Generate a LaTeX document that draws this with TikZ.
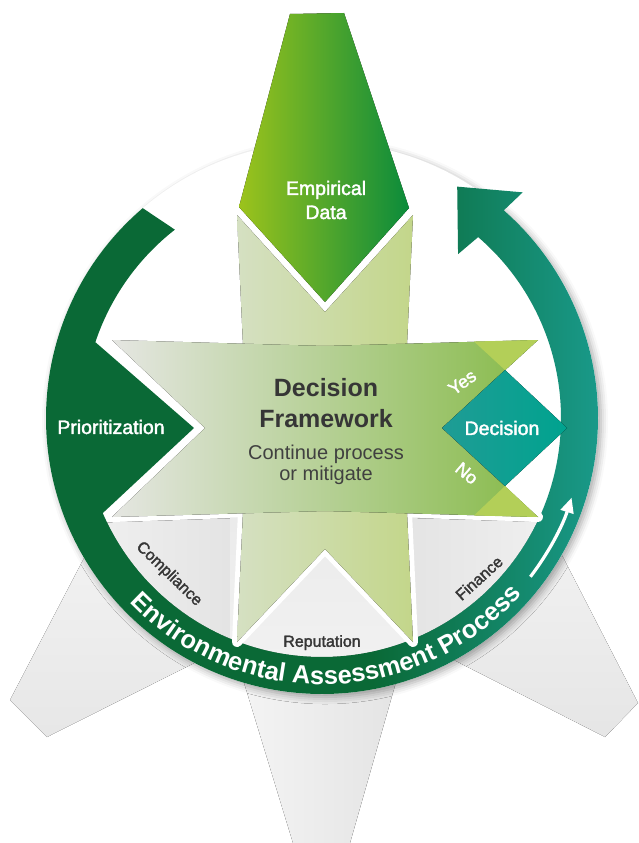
\documentclass[tikz,border=0pt]{standalone}
\usepackage{fontspec}
\setmainfont{Liberation Sans}
\newfontfamily\medfont[FakeBold=2]{Liberation Sans}
\usepackage{xcolor}
\usepackage{tikz}
\usetikzlibrary{backgrounds,calc,arrows.meta,decorations.text,shadows.blur}

\definecolor{ringdark}{HTML}{0A6936}
\definecolor{ringteal}{HTML}{1A9C8E}
\definecolor{datalight}{HTML}{9CC31C}
\definecolor{datadark}{HTML}{0B8B3B}
\definecolor{armgray}{HTML}{E5E6E2}
\definecolor{armgreen}{HTML}{86BA48}
\definecolor{bandlight}{HTML}{D5E0C2}
\definecolor{bandgreen}{HTML}{C3D68A}
\definecolor{limetri}{HTML}{B3CF58}
\definecolor{tealleft}{HTML}{1F9C95}
\definecolor{tealright}{HTML}{00A38F}
\definecolor{textdark}{HTML}{363636}

\pgfdeclarehorizontalshading{ringshade}{100bp}{color(0bp)=(ringdark); color(55bp)=(ringdark); color(75bp)=(ringteal); color(100bp)=(ringteal)}

\newcommand\lblfont{\medfont\fontsize{19.5}{24}\selectfont}
\newcommand\segfont{\medfont\fontsize{16}{20}\selectfont}
\newcommand\yesnofont{\medfont\fontsize{18}{20}\selectfont}
\newcommand\titlefont{\bfseries\fontsize{25}{31}\selectfont}
\newcommand\subfont{\fontsize{20}{21}\selectfont}
\newcommand\ringfont{\bfseries\fontsize{25.5}{28}\selectfont}

\begin{document}
\begin{tikzpicture}[x=1pt, y=-1pt,
        wlabel/.style={text=white, font=\lblfont, inner sep=0pt, align=center},
        seglabel/.style={text=textdark, font=\segfont, inner sep=0pt, text height=11.5pt, text depth=0pt},
        yesno/.style={text=white, font=\yesnofont, inner sep=0pt, text height=13pt, text depth=0pt}]
            \path[use as bounding box] (0,0) rectangle (638,843);
            \coordinate (c) at (322,418);

            % badge disk and the grey sectors below the star
            \fill[white, blur shadow={shadow xshift=3pt, shadow yshift=-3pt, shadow blur radius=7pt, shadow opacity=35}] (c) circle (276);
            \begin{scope}
                \clip (c) circle (239);
                \fill[left color=gray!10, right color=gray!22] (60,524) -- (240,518) -- (240,720) -- (60,720) -- cycle;
                \fill[top color=gray!16, bottom color=gray!9] (230,510) rectangle (420,720);
                \fill[left color=gray!21, right color=gray!9] (410,518) -- (600,524) -- (600,720) -- (410,720) -- cycle;
            \end{scope}

            % process ring, prioritization head and arrow head
            \shade[shading=ringshade]
                ($(c)+(-130.5:276)$) arc[start angle=-130.5, end angle=-408.8, radius=276]
                -- ($(c)+(-48.35:302)$) -- ($(c)+(-59.7:268)$) -- ($(c)+(-50.3:213)$)
                -- ($(c)+(-49.2:239)$) arc[start angle=-409.2, end angle=-203.45, radius=239]
                -- (194,428) -- ($(c)+(-161.5:239)$)
                arc[start angle=-161.5, end angle=-128, radius=239] -- cycle;
            \draw[white, line width=3.2, -{Triangle[length=15pt, width=13pt]}]
                ($(c)+(37.3:262)$) arc[start angle=37.3, end angle=17.7, radius=262];
            \path[decorate, decoration={text along path, text align=center,
                    text={|\ringfont\color{white}|Environmental Assessment Process}}]
                ($(c)+(150:266.5)$) arc[start angle=150, end angle=27.6, radius=266.5];

            % decision framework star
            \draw[white, line width=10, line join=round] (237,215) -- (325,312) -- (413,215) -- (407,345)
                -- (538,340) -- (442,428) -- (538,517) -- (407,512) -- (413,642) -- (325,549) -- (237,642)
                -- (243,512) -- (112,517) -- (205,428) -- (112,340) -- (243,345) -- cycle;
            \fill[left color=bandlight, right color=bandgreen] (237,215) -- (325,312) -- (413,215) -- (407,345)
                -- (407,512) -- (413,642) -- (325,549) -- (237,642) -- (243,512) -- (243,345) -- cycle;
            \fill[left color=armgray, right color=armgreen] (112,340) -- (325,346) -- (538,340) -- (442,428)
                -- (538,517) -- (325,511) -- (112,517) -- (205,428) -- cycle;
            \fill[limetri] (474,341.5) -- (538,340) -- (505,370) -- cycle;
            \fill[limetri] (474,515.5) -- (538,517) -- (505,486) -- cycle;
            \fill[left color=tealleft, right color=tealright] (442,428) -- (505,370) -- (567,428) -- (505,486) -- cycle;

            % empirical data
            \fill[left color=datalight, right color=datadark] (290,14) -- (344,13) -- (409,208) -- (325,302) -- (239,207) -- cycle;

            \begin{pgfonlayer}{background}
                \fill[top color=gray!7, bottom color=gray!19] (10,700) -- (130,470) -- (250,635) -- (47,737) -- cycle;
                \fill[left color=gray!8, right color=gray!22] (231,640) -- (293,843) -- (350,843) -- (408,640) -- cycle;
                \fill[top color=gray!7, bottom color=gray!20] (515,464) -- (638,703) -- (605,737) -- (395,630) -- cycle;
            \end{pgfonlayer}

            \node[wlabel] (data) at (326,200) {Empirical\\Data};
            \node[wlabel] (prio) at (111,427) {Prioritization};
            \node[wlabel] (decision) at (502,428) {Decision};
            \node[yesno, rotate=36] (yes) at (462,382) {Yes};
            \node[yesno, rotate=-40] (no) at (467,473) {No};
            \node[text=textdark, font=\titlefont, inner sep=0pt, align=center] (title) at (326,403.4) {Decision\\Framework};
            \node[text=textdark!95, font=\subfont, inner sep=0pt, align=center] (sub) at (326,465.3) {Continue process\\or mitigate};
            \node[seglabel, rotate=-44] (compliance) at (170,573) {Compliance};
            \node[seglabel] (reputation) at (322,641) {Reputation};
            \node[seglabel, rotate=42] (finance) at (479,578) {Finance};
        \end{tikzpicture}
\end{document}
